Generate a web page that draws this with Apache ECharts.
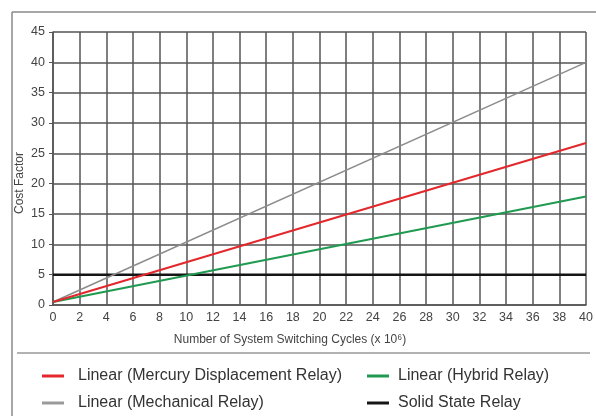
<!DOCTYPE html>
<html><head><meta charset="utf-8">
<script src="https://cdn.jsdelivr.net/npm/echarts@6/dist/echarts.min.js"></script>
<style>html,body{margin:0;padding:0;background:#fff}#c{width:596px;height:416px}</style>
</head><body><div id="c"></div>
<script>
var xValues = [0, 40];
var mercury = [0.5, 26.7];
var hybrid = [0.5, 17.9];
var mechanical = [0.5, 40];
var solidState = [5, 5];
var seriesNames = ['Linear (Mercury Displacement Relay)', 'Linear (Hybrid Relay)', 'Linear (Mechanical Relay)', 'Solid State Relay'];
var colors = ['#e2282c', '#1f9a50', '#8c8c8c', '#151515'];
var xTitle = 'Number of System Switching Cycles (x 10⁶)';
var yTitle = 'Cost Factor';

function pts(ys){ return xValues.map(function(x,i){ return [x, ys[i]]; }); }

var chart = echarts.init(document.getElementById('c'));
var font = 'Liberation Sans, Arial, sans-serif';
chart.setOption({
  animation:false,
  textStyle:{fontFamily:font},
  grid:{left:53, right:10, top:32, bottom:111, containLabel:false},
  xAxis:{type:'value', min:0, max:40, interval:2,
    axisLine:{show:true, lineStyle:{color:'#555', width:1.5}},
    axisTick:{show:false},
    splitLine:{show:true, lineStyle:{color:'#555', width:1.5}},
    axisLabel:{color:'#444', fontSize:12.5, margin:6, fontFamily:font}},
  yAxis:{type:'value', min:0, max:45, interval:5,
    axisLine:{show:true, lineStyle:{color:'#555', width:1.5}},
    axisTick:{show:true, length:4, lineStyle:{color:'#555'}},
    splitLine:{show:true, lineStyle:{color:'#555', width:1.5}},
    axisLabel:{color:'#444', fontSize:12.5, margin:8, fontFamily:font}},
  legend:[
    {data:[seriesNames[0], seriesNames[2]], orient:'vertical', left:37, top:363, itemGap:11,
     icon:'rect', itemWidth:22, itemHeight:3,
     textStyle:{color:'#333', fontSize:16, fontFamily:font, padding:[0,0,0,9]}},
    {data:[seriesNames[1], seriesNames[3]], orient:'vertical', left:362, top:363, itemGap:11,
     icon:'rect', itemWidth:22, itemHeight:3,
     textStyle:{color:'#333', fontSize:16, fontFamily:font, padding:[0,0,0,4]}}
  ],
  graphic:[
    {type:'line', shape:{x1:12, y1:12, x2:596, y2:12}, style:{stroke:'#888', lineWidth:1.5}},
    {type:'line', shape:{x1:12, y1:12, x2:12, y2:416}, style:{stroke:'#888', lineWidth:1.5}},
    {type:'line', shape:{x1:17, y1:353, x2:590, y2:353}, style:{stroke:'#666', lineWidth:1.2}},
    {type:'text', x:290, y:340, style:{text:xTitle, fill:'#444', font:'12px '+font, textAlign:'center', textVerticalAlign:'middle'}},
    {type:'text', x:20, y:183, rotation:Math.PI/2, style:{text:yTitle, fill:'#444', font:'12px '+font, textAlign:'center', textVerticalAlign:'middle'}}
  ],
  series:[
    {name:seriesNames[3], type:'line', data:pts(solidState), symbol:'none', lineStyle:{color:colors[3], width:2.5}, itemStyle:{color:colors[3]}, z:3},
    {name:seriesNames[2], type:'line', data:pts(mechanical), symbol:'none', lineStyle:{color:colors[2], width:1.5}, itemStyle:{color:'#9a9a9a'}, z:4},
    {name:seriesNames[1], type:'line', data:pts(hybrid), symbol:'none', lineStyle:{color:colors[1], width:2}, itemStyle:{color:colors[1]}, z:4},
    {name:seriesNames[0], type:'line', data:pts(mercury), symbol:'none', lineStyle:{color:colors[0], width:2}, itemStyle:{color:colors[0]}, z:5}
  ]
});
</script></body></html>
